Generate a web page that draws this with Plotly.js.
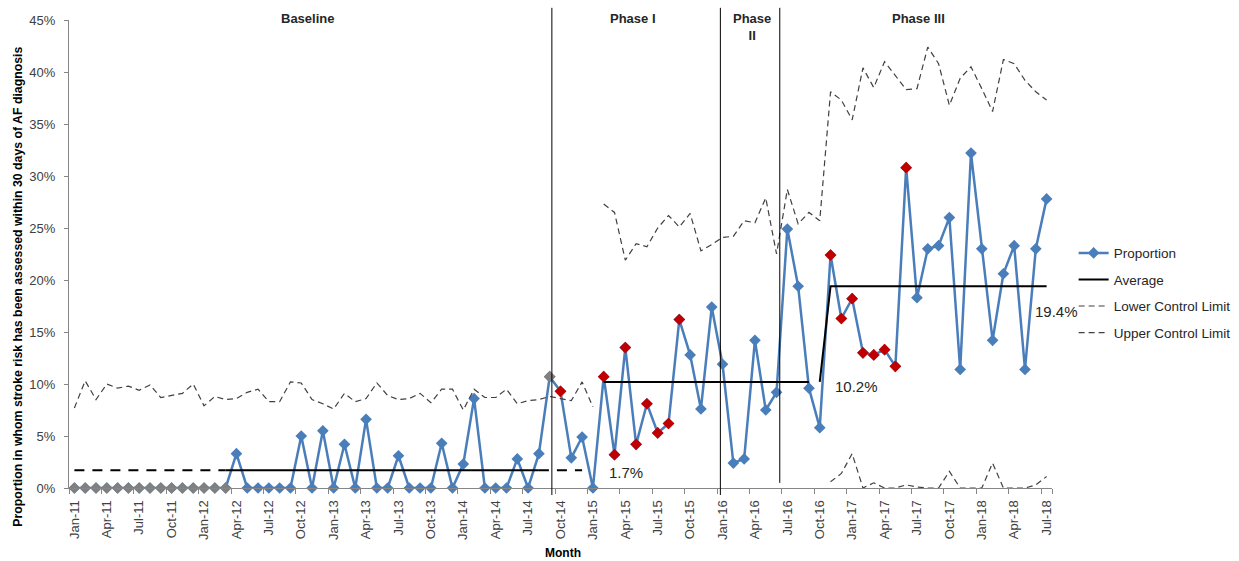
<!DOCTYPE html>
<html>
<head>
<meta charset="utf-8">
<script src="https://cdn.plot.ly/plotly-3.0.1.min.js"></script>
<style>html,body{margin:0;padding:0;background:#fff;}#chart{width:1239px;height:561px;}</style>
</head>
<body>
<div id="chart"></div>
<script>
// ---- data ----
const months = [
 'Jan-11','Feb-11','Mar-11','Apr-11','May-11','Jun-11','Jul-11','Aug-11','Sep-11','Oct-11','Nov-11','Dec-11',
 'Jan-12','Feb-12','Mar-12','Apr-12','May-12','Jun-12','Jul-12','Aug-12','Sep-12','Oct-12','Nov-12','Dec-12',
 'Jan-13','Feb-13','Mar-13','Apr-13','May-13','Jun-13','Jul-13','Aug-13','Sep-13','Oct-13','Nov-13','Dec-13',
 'Jan-14','Feb-14','Mar-14','Apr-14','May-14','Jun-14','Jul-14','Aug-14','Sep-14','Oct-14','Nov-14','Dec-14',
 'Jan-15','Feb-15','Mar-15','Apr-15','May-15','Jun-15','Jul-15','Aug-15','Sep-15','Oct-15','Nov-15','Dec-15',
 'Jan-16','Feb-16','Mar-16','Apr-16','May-16','Jun-16','Jul-16','Aug-16','Sep-16','Oct-16','Nov-16','Dec-16',
 'Jan-17','Feb-17','Mar-17','Apr-17','May-17','Jun-17','Jul-17','Aug-17','Sep-17','Oct-17','Nov-17','Dec-17',
 'Jan-18','Feb-18','Mar-18','Apr-18','May-18','Jun-18','Jul-18'
];

// Proportion (%) per month
const proportion = [
 0,0,0,0,0,0,0,0,0,0,0,0,
 0,0,0,3.3,0,0,0,0,0,5.0,0,5.5,
 0,4.2,0,6.6,0,0,3.1,0,0,0,4.3,0,
 2.3,8.6,0,0,0,2.8,0,3.3,10.7,9.3,2.9,4.9,
 0,10.7,3.2,13.5,4.2,8.1,5.3,6.2,16.2,12.8,7.6,17.4,
 11.9,2.4,2.8,14.2,7.5,9.2,24.9,19.4,9.6,5.8,22.4,16.3,
 18.2,13.0,12.8,13.3,11.7,30.8,18.3,23.0,23.3,26.0,11.4,32.2,
 23.0,14.2,20.6,23.3,11.4,23.0,27.8
];

// Upper control limit (%) per month
const upperLimit = [
 7.7,10.3,8.5,10.0,9.6,9.8,9.4,9.9,8.7,8.9,9.1,10.0,
 7.9,8.8,8.5,8.6,9.2,9.5,8.3,8.3,10.2,10.1,8.5,8.1,
 7.6,9.1,8.3,8.6,10.1,8.9,8.5,8.6,9.1,8.2,9.5,9.5,
 7.5,9.5,8.7,8.7,9.5,8.1,8.4,8.5,8.8,8.6,8.4,10.2,
 7.8,27.3,26.5,21.9,23.5,23.2,25.0,26.2,25.1,26.4,22.8,23.4,
 24.1,24.2,25.7,25.5,27.9,22.5,28.7,25.4,26.5,25.7,38.1,37.3,
 35.4,40.4,38.5,41.0,39.7,38.3,38.4,42.4,40.8,36.8,39.4,40.5,
 38.4,36.2,41.2,40.8,39.2,38.1,37.3
];

// Lower control limit (%) per month (only shown in Phase III)
const lowerLimit = [
 null,null,null,null,null,null,null,null,null,null,null,null,
 null,null,null,null,null,null,null,null,null,null,null,null,
 null,null,null,null,null,null,null,null,null,null,null,null,
 null,null,null,null,null,null,null,null,null,null,null,null,
 null,null,null,null,null,null,null,null,null,null,null,null,
 null,null,null,null,null,null,null,null,null,null,0.6,1.4,
 3.3,0,0.5,0,0,0.3,0.1,0,0,1.6,0,0,
 0,2.4,0,0,0,0.3,1.1
];

// Points marked grey (pre-data) and red (special cause)
const greyPoints = [0,1,2,3,4,5,6,7,8,9,10,11,12,13,14,44];
const redPoints = [45,49,50,51,52,53,54,55,56,70,71,72,73,74,75,76,77];

// Phase names and averages (%)
const phaseNames = ['Baseline', 'Phase I', 'Phase<br>II', 'Phase III'];
const phaseAverages = [1.7, 10.2, 19.4];
const yTicks = [0, 5, 10, 15, 20, 25, 30, 35, 40, 45];

// ---- layout helpers ----
const idx = months.map((_, i) => i);
const range = (a, b) => { const r = []; for (let i = a; i <= b; i++) r.push(i); return r; };
const FONT = 'Liberation Sans, Arial, sans-serif';
const BLUE = '#4A7EBB';

const traces = [];
traces.push({
  x: idx, y: proportion, name: 'Proportion', type: 'scatter', mode: 'lines+markers',
  line: {color: BLUE, width: 2.5}, marker: {symbol: 'diamond', size: 9, color: BLUE},
  legendgroup: 'p', cliponaxis: false
});
traces.push({
  x: greyPoints, y: greyPoints.map(i => proportion[i]), type: 'scatter', mode: 'markers',
  marker: {symbol: 'diamond', size: 9, color: '#808080'}, showlegend: false, legendgroup: 'p', cliponaxis: false
});
traces.push({
  x: redPoints, y: redPoints.map(i => proportion[i]), type: 'scatter', mode: 'markers',
  marker: {symbol: 'diamond', size: 9, color: '#C00000'}, showlegend: false, legendgroup: 'p', cliponaxis: false
});

// Averages
const avgSeg = (xs, ys, dash, show) => ({
  x: xs, y: ys, type: 'scatter', mode: 'lines', name: 'Average',
  line: {color: '#000000', width: 2, dash: dash}, showlegend: show, legendgroup: 'a', cliponaxis: false
});
const b0 = range(0, 14), b1 = range(14, 43), b2 = range(43, 47);
traces.push(avgSeg(b1, b1.map(() => phaseAverages[0]), 'solid', true));
traces.push(avgSeg(b0, b0.map(() => phaseAverages[0]), '10px,8px', false));
traces.push(avgSeg(b2, b2.map(() => phaseAverages[0]), '10px,8px', false));
const p1 = range(49, 68);
traces.push(avgSeg(p1, p1.map(() => phaseAverages[1]), 'solid', false));
const p3 = range(69, 90);
traces.push(avgSeg(p3, p3.map(i => i === 69 ? phaseAverages[1] : phaseAverages[2]), 'solid', false));

// Control limits
const CL = {color: '#404040', width: 1.2, dash: '6px,4px'};
traces.push({
  x: idx, y: lowerLimit, type: 'scatter', mode: 'lines', name: 'Lower Control Limit',
  line: CL, legendgroup: 'l', cliponaxis: false
});
const u0 = range(0, 48), u1 = range(49, 90);
traces.push({
  x: u0, y: u0.map(i => upperLimit[i]), type: 'scatter', mode: 'lines', name: 'Upper Control Limit',
  line: CL, legendgroup: 'u', cliponaxis: false
});
traces.push({
  x: u1, y: u1.map(i => upperLimit[i]), type: 'scatter', mode: 'lines', name: 'Upper Control Limit',
  line: CL, legendgroup: 'u', showlegend: false, cliponaxis: false
});

// Phase boundaries (month index positions) and label positions
const phaseLines = [{x: 44.2, y0: -0.015}, {x: 59.8, y0: -0.015}, {x: 65.3, y0: 0.011}];
const phaseLabelX = [21.6, 51.7, 62.7, 78.1];

const shapes = phaseLines.map(p => ({
  type: 'line', xref: 'x', yref: 'paper', x0: p.x, x1: p.x, y0: p.y0, y1: 1.026,
  line: {color: '#000000', width: 1}
}));

const annotations = [];
phaseNames.forEach((n, i) => annotations.push({
  x: phaseLabelX[i], y: 1.004, xref: 'x', yref: 'paper', text: '<b>' + n + '</b>',
  showarrow: false, xanchor: 'center', yanchor: i === 2 ? 'top' : 'middle',
  yshift: i === 2 ? 9 : 0,
  font: {family: FONT, size: 13, color: '#262626'}
}));
// average labels
const avgLabelPos = [{x: 49.35, y: 1.5}, {x: 70.2, y: 9.8}, {x: 88.7, y: 16.95}];
phaseAverages.forEach((v, i) => annotations.push({
  x: avgLabelPos[i].x, y: avgLabelPos[i].y, xref: 'x', yref: 'y', text: v.toFixed(1) + '%',
  showarrow: false, xanchor: 'left', yanchor: 'middle',
  font: {family: FONT, size: 15, color: '#262626'}
}));
// axis titles
annotations.push({
  x: -0.052, y: 0.43, xref: 'paper', yref: 'paper', textangle: -90,
  text: '<b>Proportion in whom stroke risk has been assessed within 30 days of AF diagnosis</b>',
  showarrow: false, xanchor: 'center', yanchor: 'middle',
  font: {family: FONT, size: 12.3, color: '#000000'}
});
annotations.push({
  x: 0.5025, y: -0.138, xref: 'paper', yref: 'paper', text: '<b>Month</b>',
  showarrow: false, xanchor: 'center', yanchor: 'middle',
  font: {family: FONT, size: 12, color: '#000000'}
});

const tickIdx = idx.filter(i => i % 3 === 0);
const boundaryIdx = tickIdx.map(i => i - 0.5).concat([90.5]);

const layout = {
  width: 1239, height: 561,
  margin: {l: 69, r: 187, t: 20, b: 73, autoexpand: false},
  paper_bgcolor: '#ffffff', plot_bgcolor: '#ffffff',
  showlegend: true,
  legend: {
    x: 1.022, y: 0.535, xanchor: 'left', yanchor: 'top',
    traceorder: 'grouped', tracegroupgap: 6,
    font: {family: FONT, size: 13.5, color: '#262626'},
    bgcolor: 'rgba(0,0,0,0)'
  },
  xaxis: {
    range: [-0.5, 90.5], showgrid: false, zeroline: false, automargin: false,
    showline: true, linecolor: '#868686', linewidth: 1,
    tickmode: 'array', tickvals: tickIdx, ticktext: tickIdx.map(i => months[i]),
    ticks: '', tickangle: -90, ticklabelstandoff: 6,
    tickfont: {family: FONT, size: 13, color: '#404040'},
    minor: {tickmode: 'array', tickvals: boundaryIdx, ticks: 'outside', ticklen: 5, tickcolor: '#868686', tickwidth: 1}
  },
  yaxis: {
    range: [0, 45], showgrid: false, zeroline: false, automargin: false,
    showline: true, linecolor: '#868686', linewidth: 1,
    tickmode: 'array', tickvals: yTicks, ticktext: yTicks.map(v => v + '%'),
    ticks: 'outside', ticklen: 4, tickcolor: '#868686', ticklabelstandoff: 6,
    tickfont: {family: FONT, size: 13, color: '#404040'}
  },
  shapes: shapes,
  annotations: annotations
};

Plotly.newPlot('chart', traces, layout, {displayModeBar: false, staticPlot: true});
</script>
</body>
</html>
